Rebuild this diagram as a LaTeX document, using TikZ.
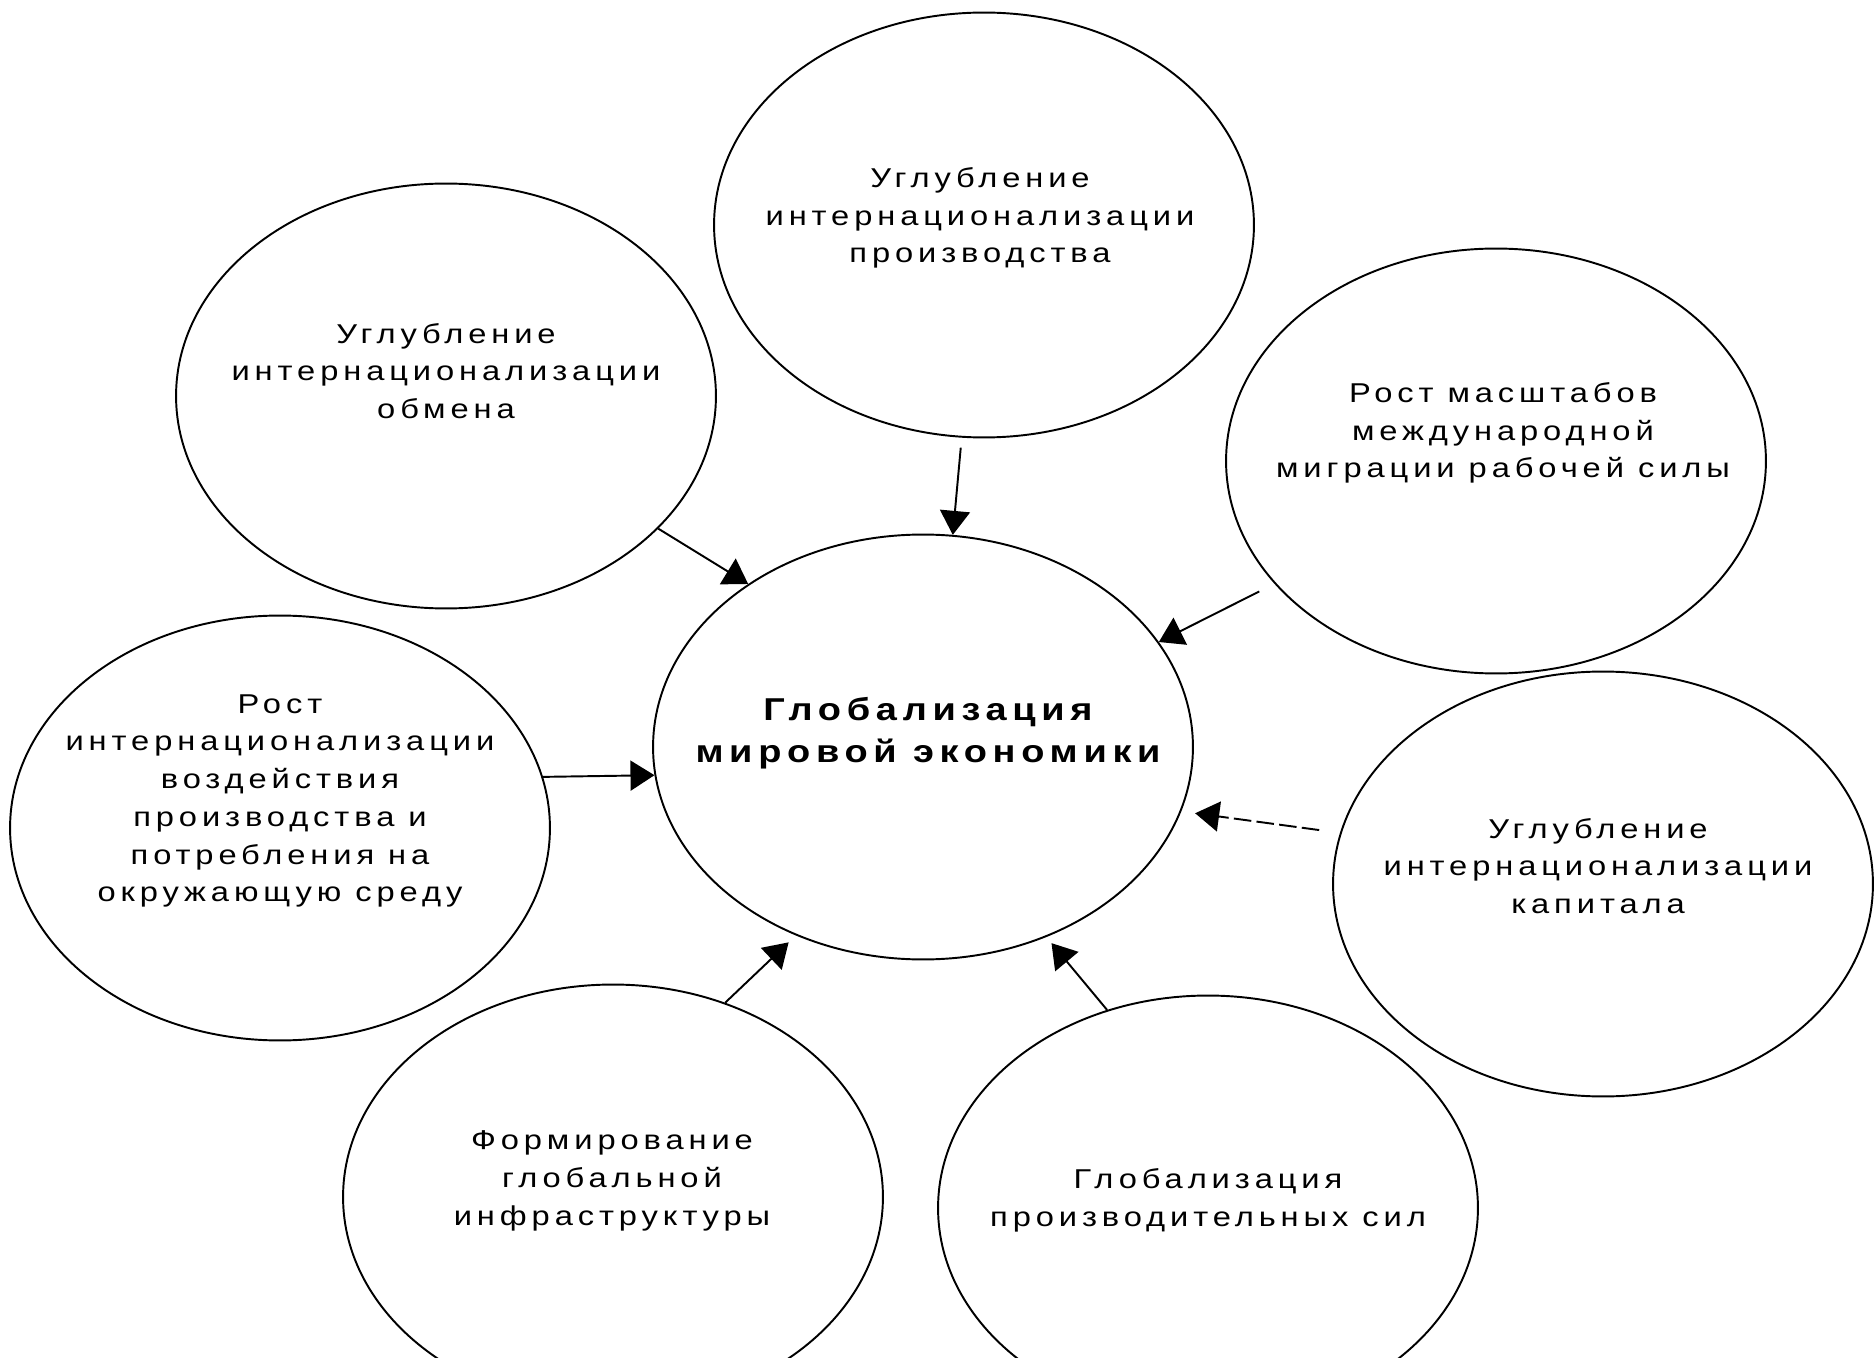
\documentclass[tikz,border=0pt]{standalone}
\usepackage{fontspec}
\setmainfont{Liberation Sans}[LetterSpace=18, FakeStretch=1.2]
\usetikzlibrary{shapes,arrows.meta}

\begin{document}
\begin{tikzpicture}[x=0.02cm, y=-0.02cm]
    % Define styles
    \tikzstyle{bubble} = [ellipse, draw, line width=1.1pt, minimum width=10.8cm, minimum height=8.5cm, inner sep=0pt]
    \tikzstyle{bubbletext} = [align=center, inner sep=0pt, font=\fontsize{15.5pt}{21.5pt}\selectfont]
    \tikzstyle{arrow} = [line width=1.1pt, -{Triangle[length=0.48cm, width=0.6cm]}]

    \useasboundingbox (0,0) rectangle (1874,1358);
    \fill [white] (0,0) rectangle (1874,1358);
    \clip (0,0) rectangle (1874,1358);

    % Circles
    \node [bubble] (glob) at (923,747) {};
    \node [bubble] (proizv) at (984,225) {};
    \node [bubble] (obmen) at (446,396) {};
    \node [bubble] (migr) at (1496,461) {};
    \node [bubble] (sreda) at (280,828) {};
    \node [bubble] (kapital) at (1603,884) {};
    \node [bubble] (infra) at (613,1197) {};
    \node [bubble] (sily) at (1208,1208) {};

    % Texts
    \node [bubbletext, font=\bfseries\fontsize{18pt}{24pt}\selectfont] (glob-t) at (928,733) {Глобализация\\мировой экономики};
    \node [bubbletext] (proizv-t) at (980,218) {Углубление\\интернационализации\\производства};
    \node [bubbletext] (obmen-t) at (446,371) {Углубление\\интернационализации\\обмена};
    \node [bubbletext] (migr-t) at (1503,433) {Рост масштабов\\международной\\миграции рабочей силы};
    \node [bubbletext] (sreda-t) at (280,801) {Рост\\интернационализации\\воздействия\\производства и\\потребления на\\окружающую среду};
    \node [bubbletext] (kapital-t) at (1598,866) {Углубление\\интернационализации\\капитала};
    \node [bubbletext] (infra-t) at (612,1181) {Формирование\\глобальной\\инфраструктуры};
    \node [bubbletext] (sily-t) at (1208,1200) {Глобализация\\производительных сил};

    % Connections
    \draw [arrow, shorten <=0.2cm] (proizv.-96) -- (glob.82);
    \draw [arrow] (obmen.-32) -- (glob.137.5);
    \draw [arrow, shorten <=0.34cm] (migr.-151.6) -- (glob.24);
    \draw [arrow] (sreda.11) -- (glob.186.4);
    \draw [arrow, dash pattern=on 10pt off 3pt, shorten <=0.42cm, shorten >=0.28cm] (kapital.169.5) -- (glob.-14.1);
    \draw [arrow, shorten >=0.2cm] (infra.60.3) -- (glob.236.2);
    \draw [arrow, shorten >=0.16cm] (sily.117.7) -- (glob.-57.4);
\end{tikzpicture}
\end{document}
